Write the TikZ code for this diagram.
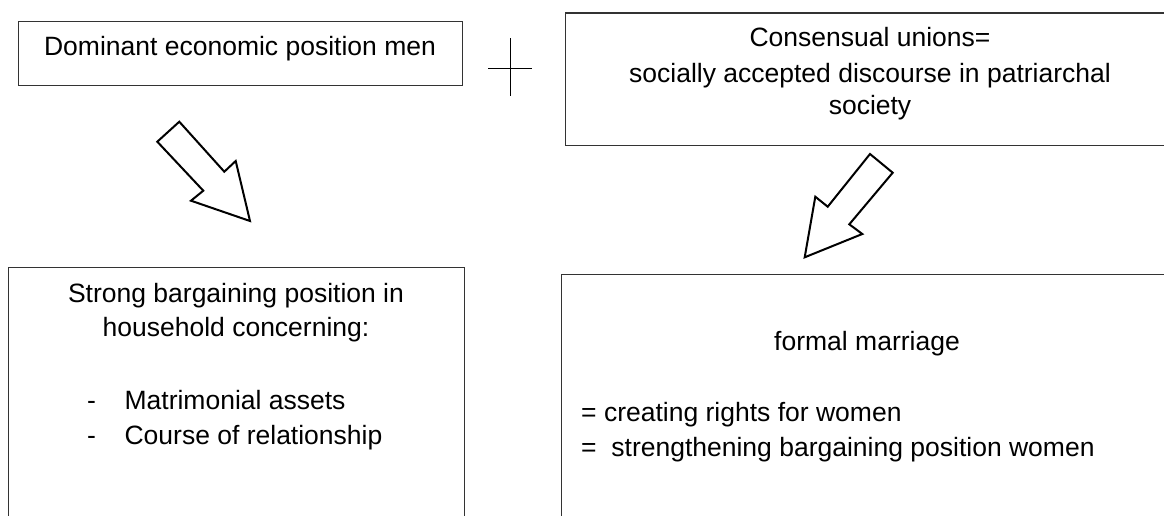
\documentclass[tikz,border=0pt]{standalone}
\usepackage{fontspec}
\setmainfont{Liberation Sans}
\begin{document}
\begin{tikzpicture}[x=1pt,y=-1pt,
  box/.style={draw=black!80, line width=1.2pt, inner sep=0pt, anchor=north west},
  blockarrow/.style={draw=black, line width=2pt, fill=white, line join=miter},
  txt/.style={anchor=base, inner sep=0pt, font=\fontsize{26.5}{34}\selectfont},
  plusline/.style={draw=black, line width=1pt}]
\useasboundingbox (0,0) rectangle (1164,515);
\clip (0,0) rectangle (1164,515);
% boxes
\node[box, minimum width=444pt, minimum height=63.7pt] (b1) at (18,21) {};
\node[box, minimum width=620pt, minimum height=132.7pt] (b2) at (564.7,12.3) {};
\node[box, minimum width=456pt, minimum height=300pt] (b3) at (8,267) {};
\node[box, minimum width=620pt, minimum height=300pt] (b4) at (561,274) {};
% texts
\node[txt] (t1) at (240,55.7) {Dominant economic position men};
\node[txt] (t2a) at (870,46.7) {Consensual unions=};
\node[txt] (t2b) at (870,82) {socially accepted discourse in patriarchal};
\node[txt] (t2c) at (870,114) {society};
\node[txt] (t3a) at (236,302.5) {Strong bargaining position in};
\node[txt] (t3b) at (236,336) {household concerning:};
\node[txt, anchor=base west] (d1) at (87,409.5) {-};
\node[txt, anchor=base west] (t3c) at (124.4,409.5) {Matrimonial assets};
\node[txt, anchor=base west] (d2) at (87,444.5) {-};
\node[txt, anchor=base west] (t3d) at (124.4,444.5) {Course of relationship};
\node[txt] (t4a) at (867,350) {formal marriage};
\node[txt, anchor=base west] (t4b) at (581,421.7) {= creating rights for women};
\node[txt, anchor=base west] (t4c) at (581,456.7) {=\ \ strengthening bargaining position women};
% plus sign
\coordinate (pl) at (488,68); \coordinate (pr) at (532,68);
\coordinate (pt) at (510,38.3); \coordinate (pb) at (510,96);
\draw[plusline] (pl) -- (pr);
\draw[plusline] (pt) -- (pb);
% block arrows
\draw[blockarrow] (179.3,121.7) -- (224.3,171.7) -- (235.7,161) -- (250,221) -- (191,200.7) -- (203.3,190.7) -- (157.3,141.7) -- cycle;
\draw[blockarrow] (870,154) -- (892.7,172.7) -- (849.3,224.3) -- (862.3,234) -- (804.7,257.3) -- (815.3,196.7) -- (827.7,206.7) -- cycle;
\end{tikzpicture}
\end{document}
